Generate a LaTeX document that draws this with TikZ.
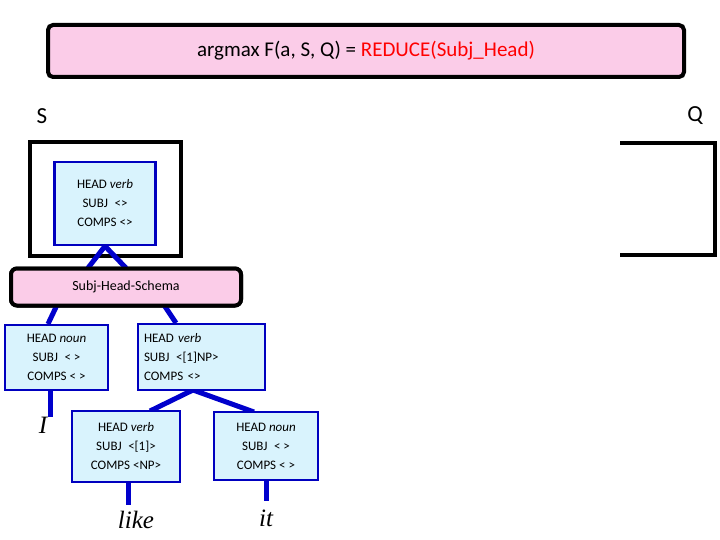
\documentclass[tikz,border=0pt]{standalone}
\usepackage{fontspec}
\setmainfont{Carlito}
\newfontfamily\serifit{Liberation Serif}
\begin{document}
\begin{tikzpicture}[x=1pt,y=-1pt,
  fs/.style={draw=blue!75!black,line width=2.2pt,fill=cyan!15,inner sep=0pt,font=\fontsize{13}{19}\selectfont},
  conn/.style={blue!80!black,line width=5pt},
  word/.style={font=\serifit\itshape\fontsize{25}{25}\selectfont,inner sep=0pt}]
\useasboundingbox (0,0) rectangle (720,540);
\node[draw=black,line width=4pt,rounded corners=5pt,fill=magenta!20,minimum width=636pt,minimum height=52pt,font=\fontsize{21}{21}\selectfont] (top) at (366,51) {argmax F(a, S, Q) = \textcolor{red}{REDUCE(Subj\_Head)}};
\node[font=\fontsize{23}{23}\selectfont] (S) at (42,116) {S};
\node[font=\fontsize{23}{23}\selectfont] (Q) at (695,116) {Q};
\node[draw=black,line width=4pt,minimum width=151pt,minimum height=113pt] (frame) at (105,199) {};
\draw[line width=4pt] (620,143) -- (715,143) -- (715,255) -- (620,255);
\node[fs,minimum width=101pt,minimum height=83pt,align=center] (n0) at (105,203.5) {HEAD \textit{verb}\\SUBJ\enspace <>\\COMPS <>};
\node[draw=black,line width=4pt,rounded corners=6pt,fill=magenta!20,minimum width=230pt,minimum height=37pt,font=\fontsize{14}{14}\selectfont] (sch) at (126,287) {Subj-Head-Schema};
\node[fs,minimum width=103pt,minimum height=65pt,align=center] (nl) at (56.5,357.5) {HEAD \textit{noun}\\SUBJ\enspace < >\\COMPS < >};
\node[fs,minimum width=127pt,minimum height=66pt,align=left,text width=115pt] (nr) at (201.5,357) {HEAD \textit{verb}\\SUBJ\enspace <[1]NP>\\COMPS <>};
\node[fs,minimum width=108pt,minimum height=71pt,align=center] (nll) at (126,446.5) {HEAD \textit{verb}\\SUBJ\enspace <[1]>\\COMPS <NP>};
\node[fs,minimum width=104pt,minimum height=68pt,align=center] (nrr) at (266,446) {HEAD \textit{noun}\\SUBJ\enspace < >\\COMPS < >};
\node[word] (wI) at (43,425) {I};
\node[word] (wlike) at (136,520) {like};
\node[word] (wit) at (266,518) {it};
\begin{scope}[on background layer/.try]
\end{scope}
\draw[conn] (n0.south) -- (88,268);
\draw[conn] (n0.south) -- (126,268);
\draw[conn] (57,305) -- (48,324);
\draw[conn] (164,305) -- (176,323);
\draw[conn] (50,391) -- (wI.north -| 50,0);
\draw[conn] (193,390) -- (150,411);
\draw[conn] (193,390) -- (254,412);
\draw[conn] (nll.south -| 128,0) -- (128,505);
\draw[conn] (nrr.south) -- (266,501);
\node[fs,minimum width=108pt,minimum height=71pt,align=center] at (nll) {HEAD \textit{verb}\\SUBJ\enspace <[1]>\\COMPS <NP>};
\node[fs,minimum width=104pt,minimum height=68pt,align=center] at (nrr) {HEAD \textit{noun}\\SUBJ\enspace < >\\COMPS < >};
\node[fs,minimum width=103pt,minimum height=65pt,align=center] at (nl) {HEAD \textit{noun}\\SUBJ\enspace < >\\COMPS < >};
\node[fs,minimum width=127pt,minimum height=66pt,align=left,text width=115pt] at (nr) {HEAD \textit{verb}\\SUBJ\enspace <[1]NP>\\COMPS <>};
\node[draw=black,line width=4pt,rounded corners=6pt,fill=magenta!20,minimum width=230pt,minimum height=37pt,font=\fontsize{14}{14}\selectfont] at (sch) {Subj-Head-Schema};
\node[fs,minimum width=101pt,minimum height=83pt,align=center] at (n0) {HEAD \textit{verb}\\SUBJ\enspace <>\\COMPS <>};
\end{tikzpicture}
\end{document}
